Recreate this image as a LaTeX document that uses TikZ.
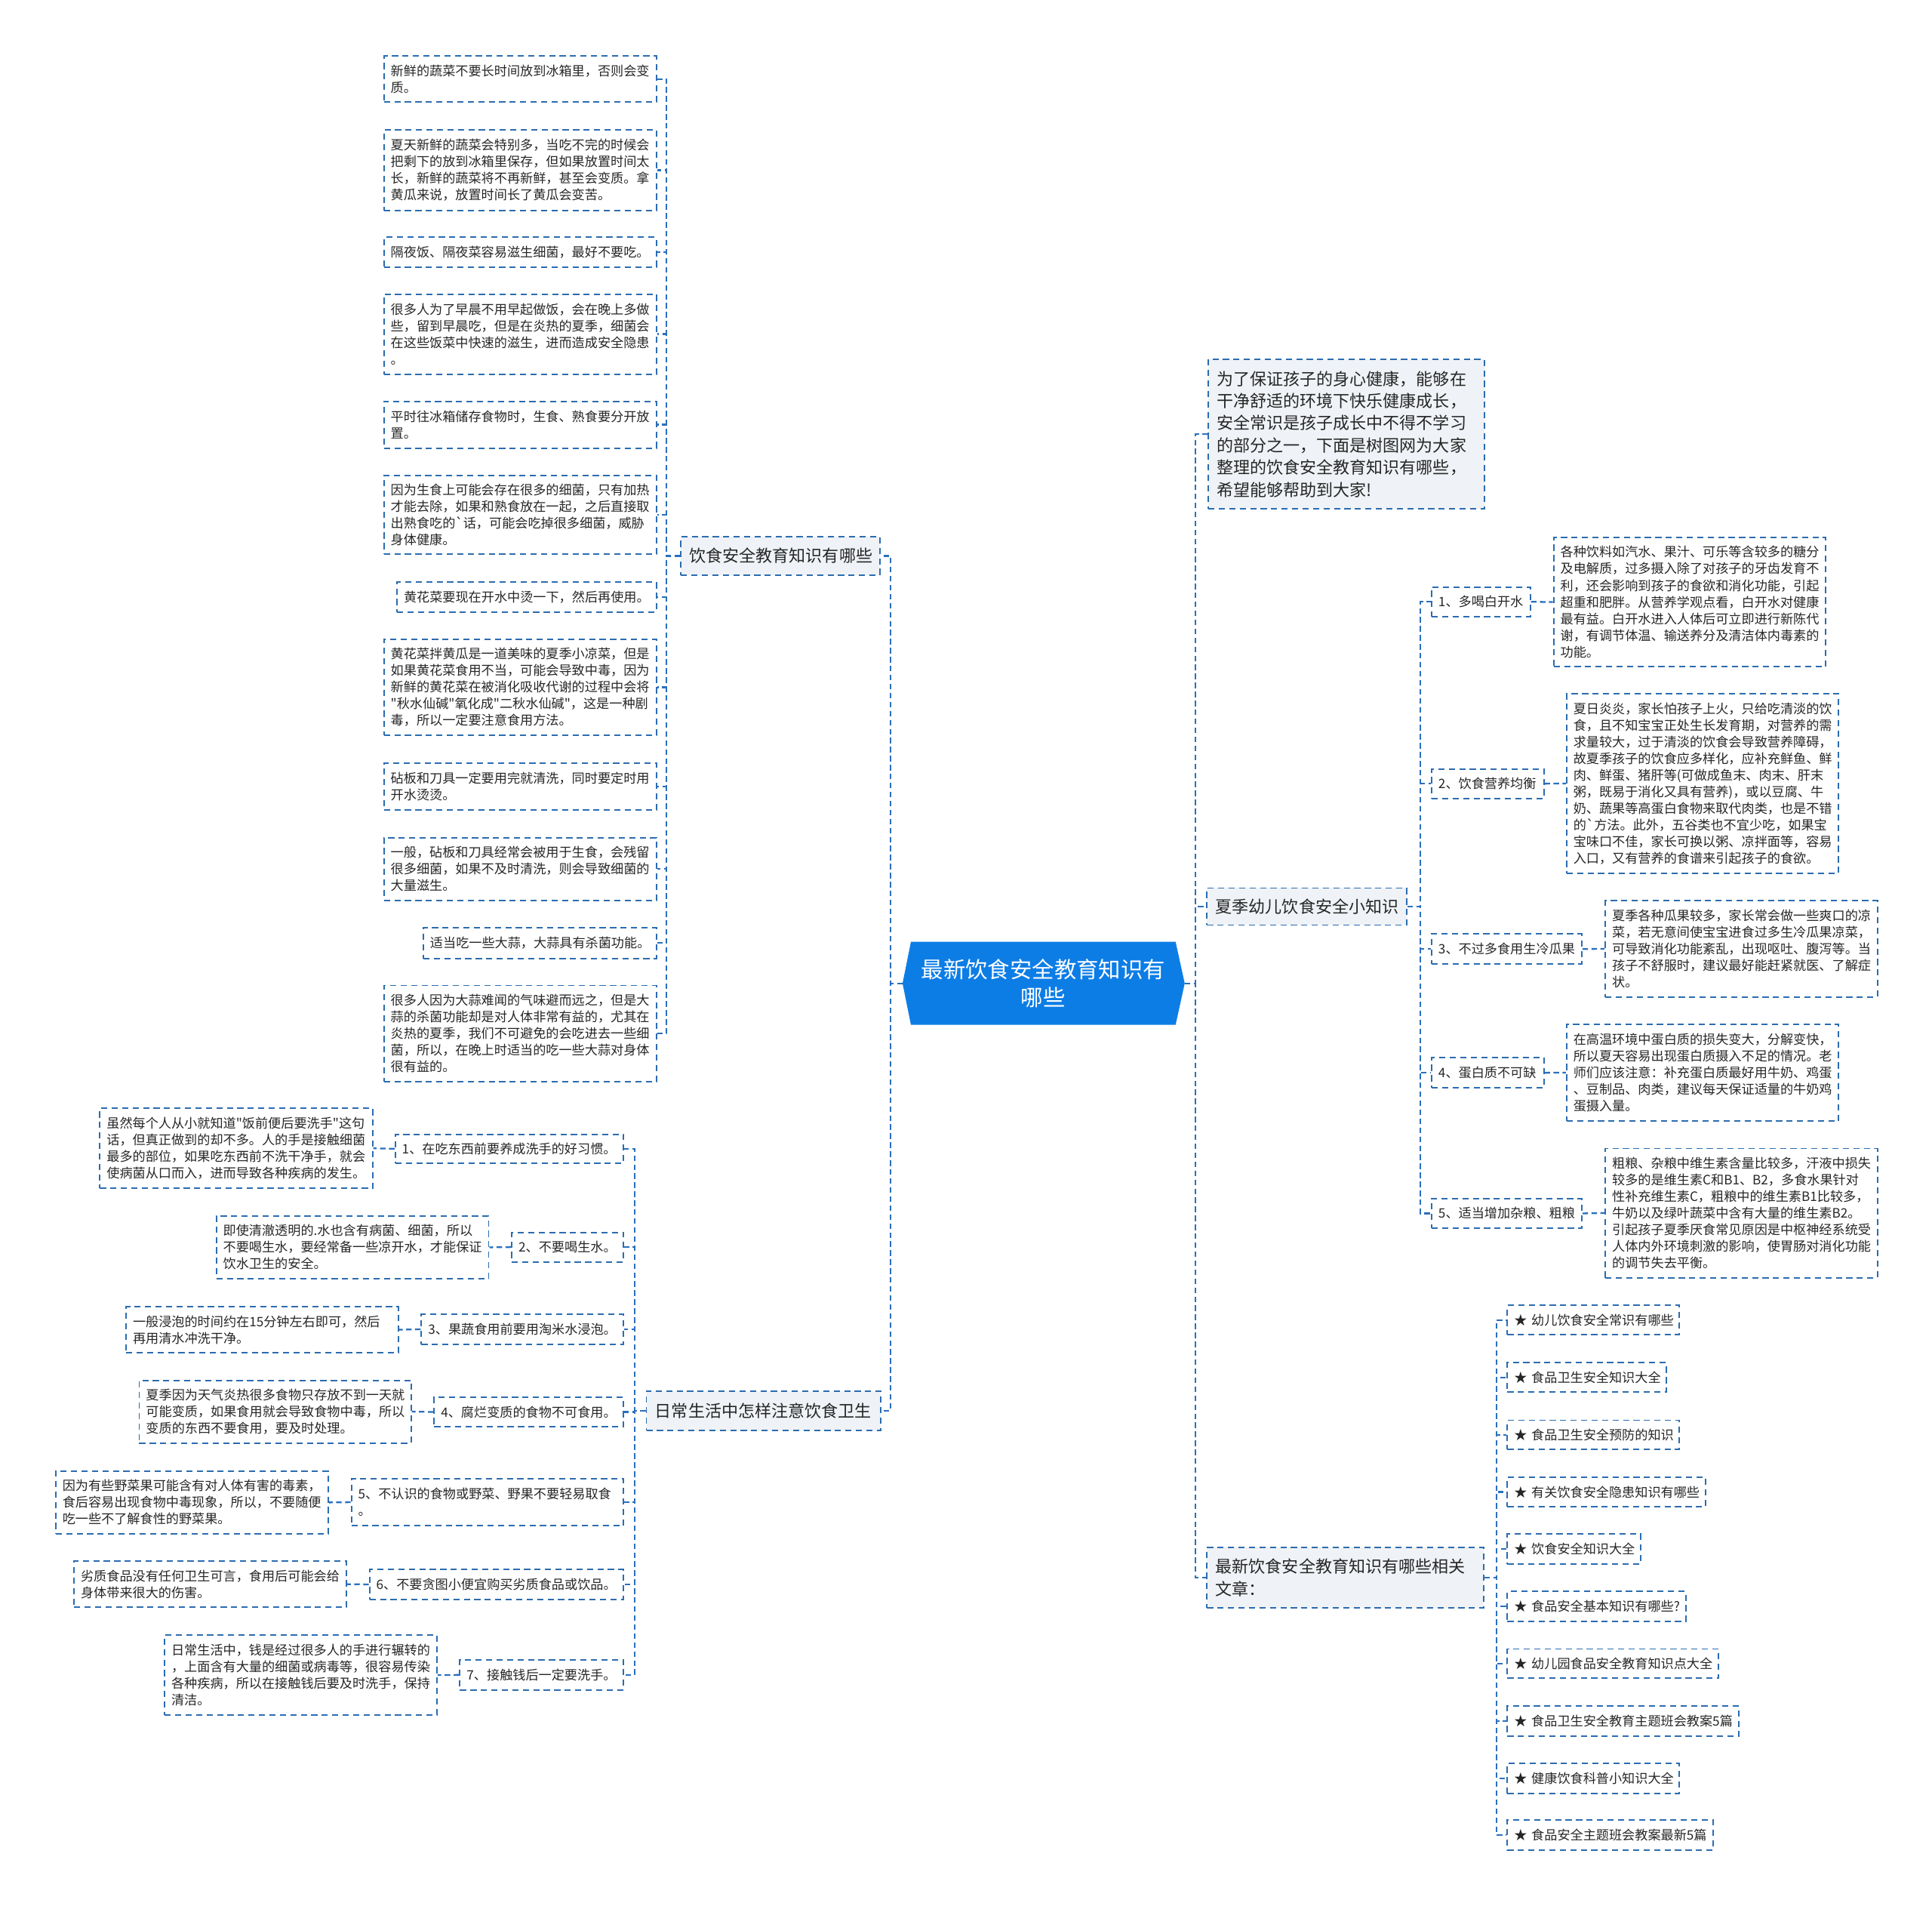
\documentclass[tikz,border=0pt]{standalone}
\usepackage{fontspec}
\newfontfamily\cjk{Noto Sans CJK SC}
\usetikzlibrary{backgrounds}
\definecolor{bordc}{HTML}{2B6CB0}
\definecolor{connc}{HTML}{2B6FBE}
\definecolor{lonefill}{HTML}{EFF2F6}
\definecolor{rootc}{HTML}{0D7DE6}
\tikzset{
  leaf/.style={draw=bordc, dash pattern=on 5pt off 3.5pt, line width=1.2pt, fill=white,
    font=\cjk\fontsize{10.5}{13.5}\selectfont, align=left, inner xsep=5.5pt, inner ysep=1pt,
    anchor=north west, text=black!85},
  lone/.style={draw=bordc, dash pattern=on 5pt off 3.5pt, line width=1.2pt, fill=lonefill,
    font=\cjk\fontsize{13.5}{18}\selectfont, align=left, inner xsep=7pt, inner ysep=1pt,
    anchor=north west, text=black!85},
  conn/.style={draw=connc, dash pattern=on 4.5pt off 2.8pt, line width=1.4pt},
}
\newcommand\leafbox[6]{%
  \pgfmathsetmacro\lbw{#4-(#2)}%
  \pgfmathsetmacro\lbh{#5-(#3)}%
  \pgfmathsetmacro\lbt{#4-(#2)-11}%
  \node[leaf, minimum width=\lbw pt, minimum height=\lbh pt, text width=\lbt pt] (#1) at (#2,#3) {#6};%
}
\newcommand\lonebox[6]{%
  \pgfmathsetmacro\lbw{#4-(#2)}%
  \pgfmathsetmacro\lbh{#5-(#3)}%
  \pgfmathsetmacro\lbt{#4-(#2)-14}%
  \node[lone, minimum width=\lbw pt, minimum height=\lbh pt, text width=\lbt pt] (#1) at (#2,#3) {#6};%
}
\begin{document}
\begin{tikzpicture}[x=1pt,y=-1pt]
\begin{scope}[on background layer]
\fill[white] (0,0) rectangle (1568,1546);
\end{scope}
\useasboundingbox (0,0) rectangle (1568,1546);

% root
\node[font=\cjk\fontsize{18}{23.2}\selectfont, text=white, align=center,
  minimum width=214.4pt, minimum height=67pt, inner sep=0pt] (root) at (846.7,797.9)
  {最新饮食安全教育知识有\\哪些};
\begin{scope}[on background layer]
\fill[rootc] (root.north west) -- (root.north east) -- ([xshift=7.4pt]root.east)
  -- (root.south east) -- (root.south west) -- ([xshift=-6.8pt]root.west) -- cycle;
\end{scope}
\coordinate (rootL) at ([xshift=-6.8pt]root.west);
\coordinate (rootR) at ([xshift=7.4pt]root.east);

% ===== Left group A =====
\lonebox{A}{552}{435}{713.4}{466}{饮食安全教育知识有哪些}
\leafbox{A1}{311}{45}{532}{82}{新鲜的蔬菜不要长时间放到冰箱里，否则会变\\质。}
\leafbox{A2}{311}{105}{532}{170}{夏天新鲜的蔬菜会特别多，当吃不完的时候会\\把剩下的放到冰箱里保存，但如果放置时间太\\长，新鲜的蔬菜将不再新鲜，甚至会变质。拿\\黄瓜来说，放置时间长了黄瓜会变苦。}
\leafbox{A3}{311}{192}{532}{216}{隔夜饭、隔夜菜容易滋生细菌，最好不要吃。}
\leafbox{A4}{311}{238}{532}{303}{很多人为了早晨不用早起做饭，会在晚上多做\\些，留到早晨吃，但是在炎热的夏季，细菌会\\在这些饭菜中快速的滋生，进而造成安全隐患\\。}
\leafbox{A5}{311}{325}{532}{363}{平时往冰箱储存食物时，生食、熟食要分开放\\置。}
\leafbox{A6}{311}{385}{532}{449}{因为生食上可能会存在很多的细菌，只有加热\\才能去除，如果和熟食放在一起，之后直接取\\出熟食吃的`话，可能会吃掉很多细菌，威胁\\身体健康。}
\leafbox{A7}{321.6}{471.6}{532}{496}{黄花菜要现在开水中烫一下，然后再使用。}
\leafbox{A8}{311}{518}{532}{596}{黄花菜拌黄瓜是一道美味的夏季小凉菜，但是\\如果黄花菜食用不当，可能会导致中毒，因为\\新鲜的黄花菜在被消化吸收代谢的过程中会将\\"秋水仙碱"氧化成"二秋水仙碱"，这是一种剧\\毒，所以一定要注意食用方法。}
\leafbox{A9}{311}{618.6}{532}{656.6}{砧板和刀具一定要用完就清洗，同时要定时用\\开水烫烫。}
\leafbox{A10}{311}{679}{532}{730}{一般，砧板和刀具经常会被用于生食，会残留\\很多细菌，如果不及时清洗，则会导致细菌的\\大量滋生。}
\leafbox{A11}{343}{752}{532}{777}{适当吃一些大蒜，大蒜具有杀菌功能。}
\leafbox{A12}{311}{799}{532}{877}{很多人因为大蒜难闻的气味避而远之，但是大\\蒜的杀菌功能却是对人体非常有益的，尤其在\\炎热的夏季，我们不可避免的会吃进去一些细\\菌，所以，在晚上时适当的吃一些大蒜对身体\\很有益的。}

% ===== Left group B =====
\lonebox{B}{524}{1128}{714}{1160}{日常生活中怎样注意饮食卫生}
\leafbox{B1}{320.2}{919.8}{505.5}{943.2}{1、在吃东西前要养成洗手的好习惯。}
\leafbox{D1}{80.5}{898.7}{301.8}{963.6}{虽然每个人从小就知道"饭前便后要洗手"这句\\话，但真正做到的却不多。人的手是接触细菌\\最多的部位，如果吃东西前不洗干净手，就会\\使病菌从口而入，进而导致各种疾病的发生。}
\leafbox{B2}{414.8}{999.4}{505.5}{1023.2}{2、不要喝生水。}
\leafbox{D2}{175}{986}{396}{1037}{即使清澈透明的.水也含有病菌、细菌，所以\\不要喝生水，要经常备一些凉开水，才能保证\\饮水卫生的安全。}
\leafbox{B3}{341.4}{1066}{505.5}{1090}{3、果蔬食用前要用淘米水浸泡。}
\leafbox{D3}{101.7}{1059.6}{322.7}{1097}{一般浸泡的时间约在15分钟左右即可，然后\\再用清水冲洗干净。}
\leafbox{B4}{351.8}{1133}{505.5}{1157.2}{4、腐烂变质的食物不可食用。}
\leafbox{D4}{112.4}{1119.4}{333}{1170.2}{夏季因为天气炎热很多食物只存放不到一天就\\可能变质，如果食用就会导致食物中毒，所以\\变质的东西不要食用，要及时处理。}
\leafbox{B5}{284.6}{1199.4}{505.5}{1237.2}{5、不认识的食物或野菜、野果不要轻易取食\\。}
\leafbox{D5}{44.6}{1193}{265.8}{1244}{因为有些野菜果可能含有对人体有害的毒素，\\食后容易出现食物中毒现象，所以，不要随便\\吃一些不了解食性的野菜果。}
\leafbox{B6}{299.3}{1273}{505.5}{1297}{6、不要贪图小便宜购买劣质食品或饮品。}
\leafbox{D6}{59.5}{1266}{280.5}{1303.6}{劣质食品没有任何卫生可言，食用后可能会给\\身体带来很大的伤害。}
\leafbox{B7}{372.7}{1346.4}{505.5}{1370.5}{7、接触钱后一定要洗手。}
\leafbox{D7}{133}{1326}{354}{1391}{日常生活中，钱是经过很多人的手进行辗转的\\，上面含有大量的细菌或病毒等，很容易传染\\各种疾病，所以在接触钱后要及时洗手，保持\\清洁。}

% ===== Right side =====
\lonebox{I}{980}{291}{1204}{412.4}{为了保证孩子的身心健康，能够在\\干净舒适的环境下快乐健康成长，\\安全常识是孩子成长中不得不学习\\的部分之一，下面是树图网为大家\\整理的饮食安全教育知识有哪些，\\希望能够帮助到大家!}

\lonebox{S}{979}{720}{1141}{750}{夏季幼儿饮食安全小知识}
\leafbox{S1}{1161.3}{475.7}{1241.3}{499.8}{1、多喝白开水}
\leafbox{E1}{1260.3}{435.3}{1481}{540.4}{各种饮料如汽水、果汁、可乐等含较多的糖分\\及电解质，过多摄入除了对孩子的牙齿发育不\\利，还会影响到孩子的食欲和消化功能，引起\\超重和肥胖。从营养学观点看，白开水对健康\\最有益。白开水进入人体后可立即进行新陈代\\谢，有调节体温、输送养分及清洁体内毒素的\\功能。}
\leafbox{S2}{1161.3}{623.3}{1252.3}{647.2}{2、饮食营养均衡}
\leafbox{E2}{1270.8}{562.5}{1491.7}{707.8}{夏日炎炎，家长怕孩子上火，只给吃清淡的饮\\食，且不知宝宝正处生长发育期，对营养的需\\求量较大，过于清淡的饮食会导致营养障碍，\\故夏季孩子的饮食应多样化，应补充鲜鱼、鲜\\肉、鲜蛋、猪肝等(可做成鱼末、肉末、肝末\\粥，既易于消化又具有营养)，或以豆腐、牛\\奶、蔬果等高蛋白食物来取代肉类，也是不错\\的`方法。此外，五谷类也不宜少吃，如果宝\\宝味口不佳，家长可换以粥、凉拌面等，容易\\入口，又有营养的食谱来引起孩子的食欲。}
\leafbox{S3}{1161.3}{757.3}{1283.1}{781.6}{3、不过多食用生冷瓜果}
\leafbox{E3}{1302.3}{730.3}{1523}{808.3}{夏季各种瓜果较多，家长常会做一些爽口的凉\\菜，若无意间使宝宝进食过多生冷瓜果凉菜，\\可导致消化功能紊乱，出现呕吐、腹泻等。当\\孩子不舒服时，建议最好能赶紧就医、了解症\\状。}
\leafbox{S4}{1161.3}{857.5}{1252.3}{882.2}{4、蛋白质不可缺}
\leafbox{E4}{1270.8}{830.5}{1491.7}{909}{在高温环境中蛋白质的损失变大，分解变快，\\所以夏天容易出现蛋白质摄入不足的情况。老\\师们应该注意：补充蛋白质最好用牛奶、鸡蛋\\、豆制品、肉类，建议每天保证适量的牛奶鸡\\蛋摄入量。}
\leafbox{S5}{1161.3}{971.8}{1283.1}{996.1}{5、适当增加杂粮、粗粮}
\leafbox{E5}{1302.3}{931.3}{1523}{1036.1}{粗粮、杂粮中维生素含量比较多，汗液中损失\\较多的是维生素C和B1、B2，多食水果针对\\性补充维生素C，粗粮中的维生素B1比较多，\\牛奶以及绿叶蔬菜中含有大量的维生素B2。\\引起孩子夏季厌食常见原因是中枢神经系统受\\人体内外环境刺激的影响，使胃肠对消化功能\\的调节失去平衡。}

\lonebox{R}{979}{1255}{1203.5}{1304}{最新饮食安全教育知识有哪些相关\\文章：}
\leafbox{R1}{1222.8}{1058.6}{1362.3}{1082.4}{★~幼儿饮食安全常识有哪些}
\leafbox{R2}{1222.8}{1105.2}{1351.6}{1129}{★~食品卫生安全知识大全}
\leafbox{R3}{1222.8}{1151.8}{1362.3}{1175.6}{★~食品卫生安全预防的知识}
\leafbox{R4}{1222.8}{1198.2}{1383.6}{1221.9}{★~有关饮食安全隐患知识有哪些}
\leafbox{R5}{1222.8}{1244.2}{1330.8}{1268.5}{★~饮食安全知识大全}
\leafbox{R6}{1222.8}{1290.8}{1367.5}{1315.1}{★~食品安全基本知识有哪些?}
\leafbox{R7}{1222.8}{1337.4}{1394.3}{1361.2}{★~幼儿园食品安全教育知识点大全}
\leafbox{R8}{1222.8}{1383.7}{1410.8}{1408.1}{★~食品卫生安全教育主题班会教案5篇}
\leafbox{R9}{1222.8}{1430.3}{1362.3}{1454.7}{★~健康饮食科普小知识大全}
\leafbox{R10}{1222.8}{1476.3}{1389.7}{1500.7}{★~食品安全主题班会教案最新5篇}

% ===== connectors =====
\foreach \n in {A,B} \draw[conn] (rootL) -- ++(-9.7,0) |- (\n.east);
\foreach \n in {I,S,R} \draw[conn] (rootR) -- ++(8.7,0) |- (\n.west);
\foreach \n in {1,...,12} \draw[conn] (A.west) -- ++(-11,0) |- (A\n.east);
\foreach \n in {1,...,7} {
  \draw[conn] (B.west) -- ++(-9.1,0) |- (B\n.east);
  \draw[conn] (B\n.west) -- (D\n.east);
}
\foreach \n in {1,...,5} {
  \draw[conn] (S.east) -- ++(10.5,0) |- (S\n.west);
  \draw[conn] (S\n.east) -- (E\n.west);
}
\foreach \n in {1,...,10} \draw[conn] (R.east) -- ++(9.8,0) |- (R\n.west);
\end{tikzpicture}
\end{document}
